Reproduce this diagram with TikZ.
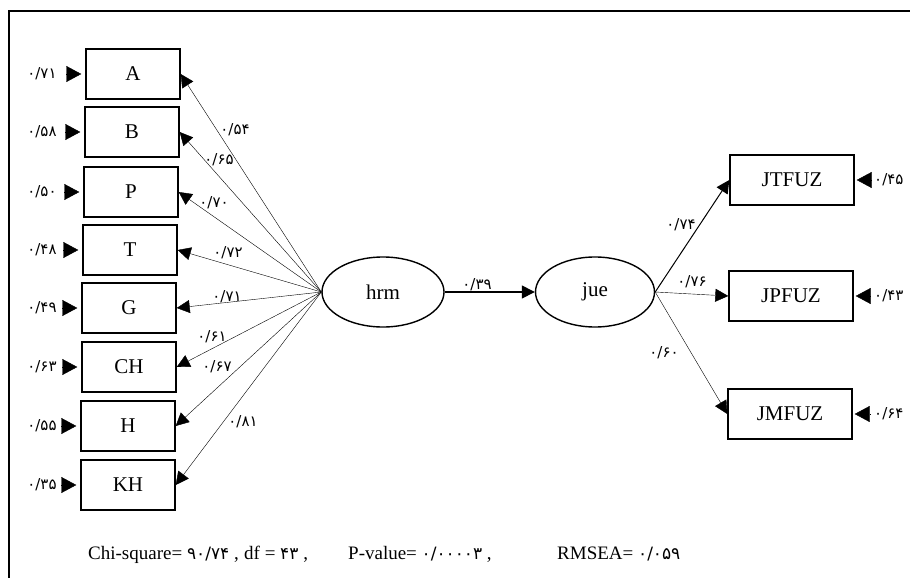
\documentclass[tikz,border=0pt]{standalone}
\usepackage{fontspec}
\setmainfont{Liberation Serif}
\newfontfamily\fanum{DejaVu Sans}
\usetikzlibrary{arrows.meta,shapes.geometric}

\begin{document}
\begin{tikzpicture}[x=1pt,y=-1pt]
\tikzset{box/.style = {shape=rectangle,draw,line width=1.4pt,minimum width=94pt,minimum height=50pt,font=\fontsize{21}{24}\selectfont}}
\tikzset{rbox/.style = {box,minimum width=124pt}}
\tikzset{latent/.style = {shape=ellipse,draw,line width=1.4pt,minimum width=122pt,minimum height=70pt,inner sep=0pt,font=\fontsize{21}{24}\selectfont}}
\tikzset{num/.style = {inner sep=0pt,font=\fanum\fontsize{15}{17}\selectfont}}
\tikzset{errnum/.style = {num,minimum width=30pt}}
\tikzset{fitline/.style = {anchor=base west,inner sep=0pt,font=\fontsize{19}{22}\selectfont}}
\tikzset{edge/.style = {->,> = {Triangle[length=13pt,width=13pt]},line width=0.4pt}}
\tikzset{err/.style = {->,> = {Triangle[length=15pt,width=16pt]},line width=0.4pt}}
\newcommand{\fitnum}[1]{{\fanum\fontsize{17}{19}\selectfont #1}}
\useasboundingbox (0,0) rectangle (910,578);
% frame
\draw[line width=1.5pt] (9,578) -- (9,11) -- (910,11);
% vertices
\node[box] (a)  at (133,74)  {A};
\node[box] (b)  at (132,132) {B};
\node[box] (p)  at (131,192) {P};
\node[box] (t)  at (130,250) {T};
\node[box] (g)  at (129,308) {G};
\node[box] (ch) at (129,367) {CH};
\node[box] (h)  at (128,426) {H};
\node[box] (kh) at (128,485) {KH};
\node[latent] (hrm) at (383,292) {hrm};
\node[latent,minimum width=119pt] (jue) at (595,292) {jue};
\node[rbox] (jtfuz) at (792,180) {JTFUZ};
\node[rbox] (jpfuz) at (791,296) {JPFUZ};
\node[rbox] (jmfuz) at (790,414) {JMFUZ};
% error values
\node[errnum] (ea)  at (42,74)  {۰/۷۱};
\node[errnum] (eb)  at (42,132) {۰/۵۸};
\node[errnum] (ep)  at (42,192) {۰/۵۰};
\node[errnum] (et)  at (42,250) {۰/۴۸};
\node[errnum] (eg)  at (42,308) {۰/۴۹};
\node[errnum] (ech) at (42,367) {۰/۶۳};
\node[errnum] (eh)  at (42,426) {۰/۵۵};
\node[errnum] (ekh) at (42,485) {۰/۳۵};
\node[num,anchor=west] (ejt) at (874,180) {۰/۴۵};
\node[num,anchor=west] (ejp) at (874,296) {۰/۴۳};
\node[num,anchor=west] (ejm) at (874,414) {۰/۶۴};
% loadings
\node[num] (la)  at (235,130) {۰/۵۴};
\node[num] (lb)  at (219,160) {۰/۶۵};
\node[num] (lp)  at (214,203) {۰/۷۰};
\node[num] (lt)  at (228,253) {۰/۷۲};
\node[num] (lg)  at (227,297) {۰/۷۱};
\node[num] (lch) at (212,337) {۰/۶۱};
\node[num] (lh)  at (217,367) {۰/۶۷};
\node[num] (lkh) at (243,422) {۰/۸۱};
\node[num] (lhj) at (477,285) {۰/۳۹};
\node[num] (ljt) at (681,225) {۰/۷۴};
\node[num] (ljp) at (692,282) {۰/۷۶};
\node[num] (ljm) at (664,353) {۰/۶۰};
%edges
\draw[edge] (hrm.west) -- (a.east);
\draw[edge] (hrm.west) -- (b.east);
\draw[edge] (hrm.west) -- (p.east);
\draw[edge] (hrm.west) -- (t.east);
\draw[edge] (hrm.west) -- (g.east);
\draw[edge] (hrm.west) -- (ch.east);
\draw[edge] (hrm.west) -- (h.east);
\draw[edge] (hrm.west) -- (kh.east);
\draw[edge,line width=1.4pt] (hrm.east) -- (jue.west);
\draw[edge,line width=1pt] (jue.east) -- (jtfuz.west);
\draw[edge] (jue.east) -- (jpfuz.west);
\draw[edge] (jue.east) -- (jmfuz.west);
\draw[err,shorten <=9pt,shorten >=4pt] (ea) -- (a);
\draw[err,shorten <=9pt,shorten >=4pt] (eb) -- (b);
\draw[err,shorten <=9pt,shorten >=4pt] (ep) -- (p);
\draw[err,shorten <=9pt,shorten >=4pt] (et) -- (t);
\draw[err,shorten <=9pt,shorten >=4pt] (eg) -- (g);
\draw[err,shorten <=9pt,shorten >=4pt] (ech) -- (ch);
\draw[err,shorten <=9pt,shorten >=4pt] (eh) -- (h);
\draw[err,shorten <=9pt,shorten >=4pt] (ekh) -- (kh);
\draw[err,shorten <=4pt,shorten >=2pt] (ejt) -- (jtfuz);
\draw[err,shorten <=4pt,shorten >=2pt] (ejp) -- (jpfuz);
\draw[err,shorten <=4pt,shorten >=2pt] (ejm) -- (jmfuz);
% fit indices
\node[fitline] (chi) at (88,559) {Chi-square= \fitnum{۹۰/۷۴} ,};
\node[fitline] (df) at (244,559) {df = \fitnum{۴۳} ,};
\node[fitline] (pv) at (348,559) {P-value= \fitnum{۰/۰۰۰۰۳} ,};
\node[fitline] (rmsea) at (557,559) {RMSEA= \fitnum{۰/۰۵۹}};
\end{tikzpicture}
\end{document}
